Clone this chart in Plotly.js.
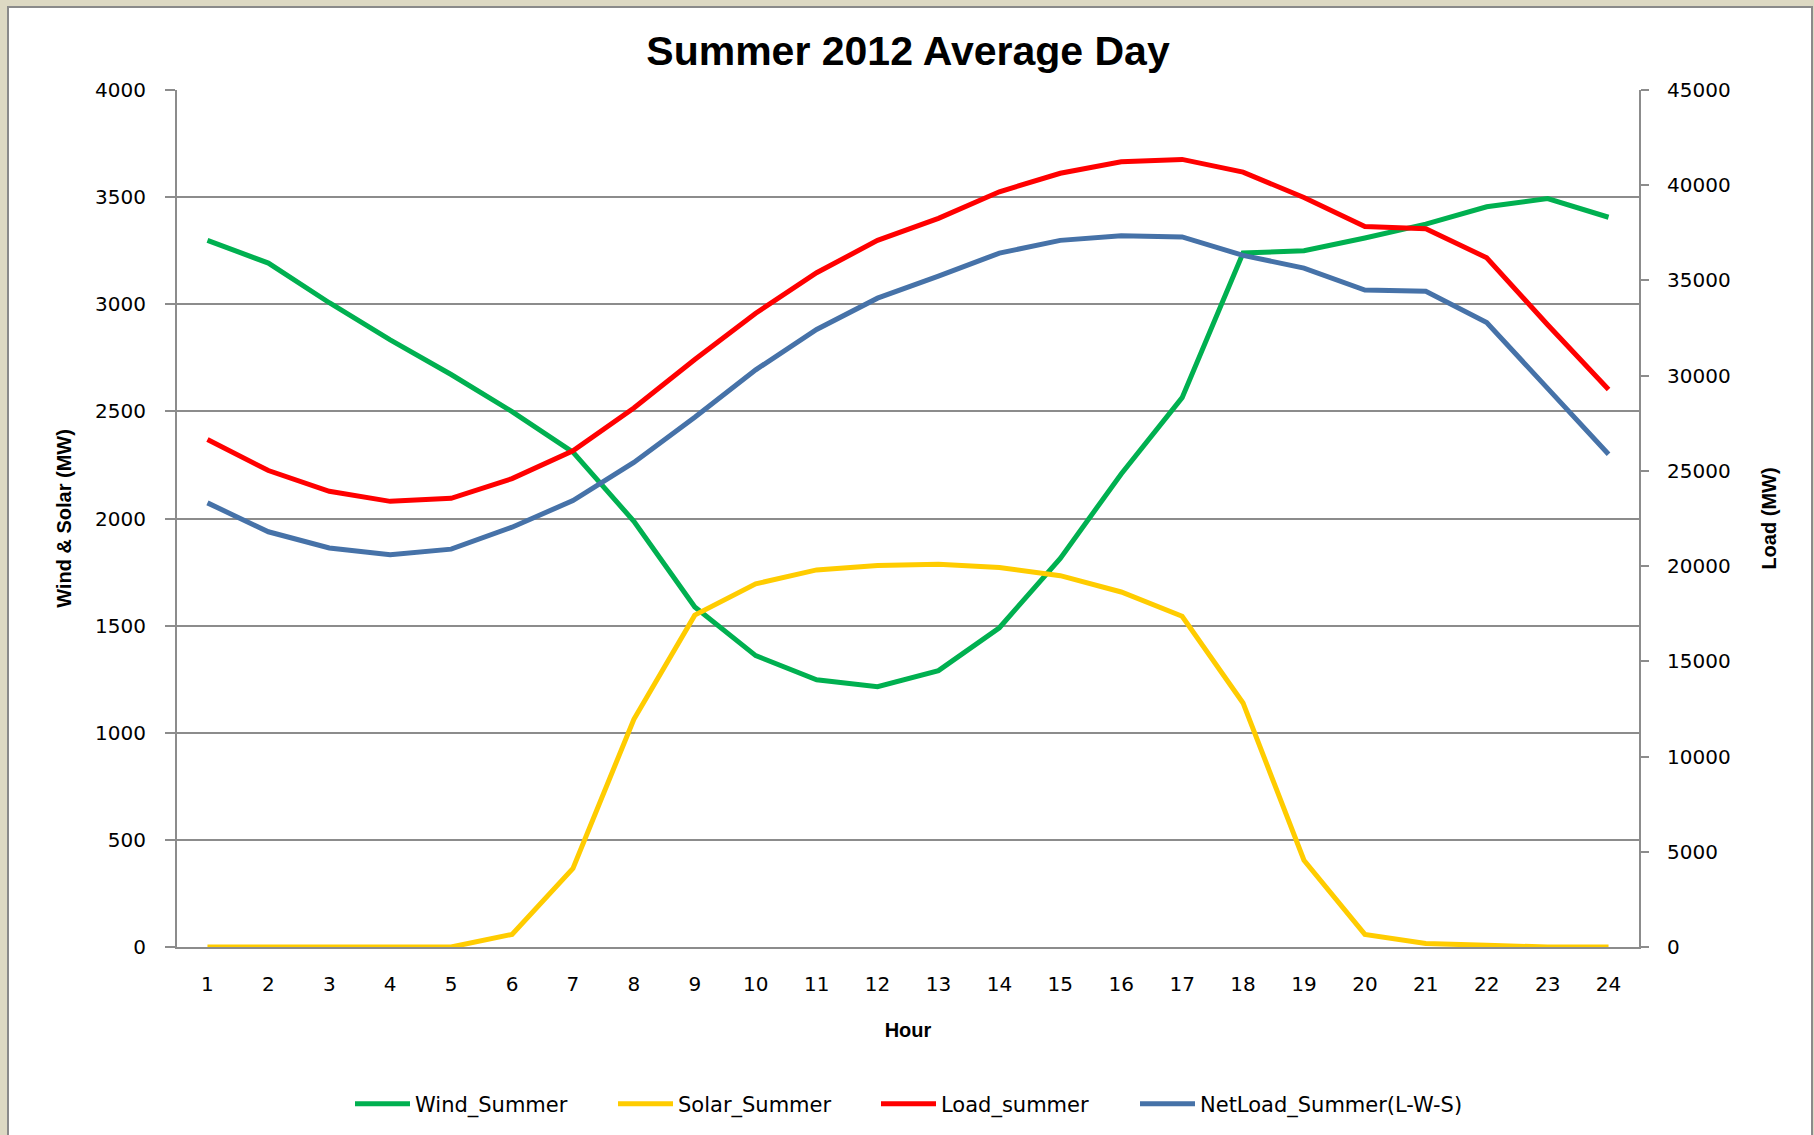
<!DOCTYPE html>
<html>
<head>
<meta charset="utf-8">
<script src="https://cdn.plot.ly/plotly-3.0.1.min.js"></script>
<style>
  html, body { margin: 0; padding: 0; overflow: hidden; background: #DDD9C3; width: 1814px; height: 1135px; }
  #frame { position: absolute; left: 7px; top: 6px; width: 1802px; height: 1129px;
           border-left: 2px solid #8A8A8A; border-top: 2px solid #8A8A8A; border-right: 2px solid #8A8A8A;
           background: #ffffff; }
  #chart { width: 1802px; height: 1127px; }
</style>
</head>
<body>
<div id="frame"><div id="chart"></div></div>
<script>
// ---- data ----
const hours = [1,2,3,4,5,6,7,8,9,10,11,12,13,14,15,16,17,18,19,20,21,22,23,24];
const hourLabels = hours.map(String);

const windSummer = [3298,3192,3007,2834,2672,2499,2310,1987,1587,1360,1247,1215,
                    1290,1490,1814,2208,2564,3239,3250,3309,3374,3455,3493,3406];

const solarSummer = [0,0,0,0,0,59,367,1063,1549,1695,1760,1781,
                     1787,1771,1733,1657,1544,1139,405,59,16,8,0,0];

const loadSummer = [26650,25020,23927,23400,23563,24595,26053,28300,30850,33279,35405,37105,
                    38259,39656,40628,41235,41356,40688,39352,37834,37713,36194,32672,29271];

const netLoadSummer = [23320,21802,20951,20600,20891,22045,23441,25445,27814,30304,32429,34069,
                       35223,36437,37105,37348,37287,36316,35648,34494,34433,32794,29332,25870];

const leftTicks = [0,500,1000,1500,2000,2500,3000,3500,4000];
const rightTicks = [0,5000,10000,15000,20000,25000,30000,35000,40000,45000];

const seriesNames = ['Wind_Summer','Solar_Summer','Load_summer','NetLoad_Summer(L-W-S)'];
const seriesColors = ['#00B050','#FFCC00','#FF0000','#4672A8'];

// ---- traces ----
const lineW = 5;
const traces = [
  {x: hourLabels, y: windSummer, name: seriesNames[0], type: 'scatter', mode: 'lines',
   line: {color: seriesColors[0], width: lineW}, yaxis: 'y', legend: 'legend'},
  {x: hourLabels, y: solarSummer, name: seriesNames[1], type: 'scatter', mode: 'lines',
   line: {color: seriesColors[1], width: lineW}, yaxis: 'y', legend: 'legend'},
  {x: hourLabels, y: loadSummer, name: seriesNames[2], type: 'scatter', mode: 'lines',
   line: {color: seriesColors[2], width: lineW}, yaxis: 'y2', legend: 'legend'},
  {x: hourLabels, y: netLoadSummer, name: seriesNames[3], type: 'scatter', mode: 'lines',
   line: {color: seriesColors[3], width: lineW}, yaxis: 'y2', legend: 'legend2'}
];

const gridC = '#8C8C8C';
const tickFont = {family: 'DejaVu Sans, Verdana, sans-serif', size: 20, color: '#000000'};
const titleFont = {family: 'Liberation Sans, Arial, sans-serif', size: 20, color: '#000000', weight: 'bold'};
const legendFont = {family: 'DejaVu Sans, Verdana, sans-serif', size: 21, color: '#000000'};
const legendY = -(1104 - 948) / 858;

const layout = {
  width: 1802, height: 1127,
  margin: {l: 168, r: 172, t: 82, b: 187, pad: 0},
  paper_bgcolor: '#ffffff',
  plot_bgcolor: '#ffffff',
  showlegend: true,
  title: {
    text: 'Summer 2012 Average Day',
    font: {family: 'Liberation Sans, Arial, sans-serif', size: 41, color: '#000000', weight: 'bold'},
    x: 0.5, xref: 'paper', xanchor: 'center',
    y: 1 - 43/1127, yref: 'container', yanchor: 'middle'
  },
  xaxis: {
    type: 'category',
    categoryorder: 'array', categoryarray: hourLabels,
    range: [-0.5, 23.5],
    showgrid: false, zeroline: false,
    showline: true, linecolor: gridC, linewidth: 2,
    ticks: '', tickfont: tickFont, ticklabelstandoff: 18,
    title: {text: 'Hour', font: titleFont, standoff: 28},
    fixedrange: true
  },
  yaxis: {
    range: [0, 4000],
    tickmode: 'array', tickvals: leftTicks, ticktext: leftTicks.map(String),
    showgrid: true, gridcolor: gridC, gridwidth: 2,
    zeroline: false,
    showline: true, linecolor: gridC, linewidth: 2,
    ticks: 'outside', ticklen: 10, tickwidth: 2, tickcolor: gridC,
    tickfont: tickFont, ticklabelstandoff: 15,
    title: {text: 'Wind & Solar (MW)', font: titleFont, standoff: 18},
    fixedrange: true
  },
  yaxis2: {
    range: [0, 45000],
    overlaying: 'y', side: 'right',
    tickmode: 'array', tickvals: rightTicks, ticktext: rightTicks.map(String),
    showgrid: false, zeroline: false,
    showline: true, linecolor: gridC, linewidth: 2,
    ticks: 'outside', ticklen: 8, tickwidth: 2, tickcolor: gridC,
    tickfont: tickFont, ticklabelstandoff: 14,
    title: {text: 'Load (MW)', font: titleFont, standoff: 32},
    fixedrange: true
  },
  legend: {
    orientation: 'h',
    x: (350 - 177) / 1462, xanchor: 'left',
    y: legendY, yanchor: 'middle', yref: 'paper',
    font: legendFont,
    bgcolor: 'rgba(0,0,0,0)',
    traceorder: 'normal',
    itemwidth: 55,
    entrywidth: 193, entrywidthmode: 'pixels'
  },
  legend2: {
    orientation: 'h',
    x: (1135 - 177) / 1462, xanchor: 'left',
    y: legendY, yanchor: 'middle', yref: 'paper',
    font: legendFont,
    bgcolor: 'rgba(0,0,0,0)',
    traceorder: 'normal',
    itemwidth: 55
  },
  hovermode: false
};

Plotly.newPlot('chart', traces, layout, {displayModeBar: false, staticPlot: true});
</script>
</body>
</html>
